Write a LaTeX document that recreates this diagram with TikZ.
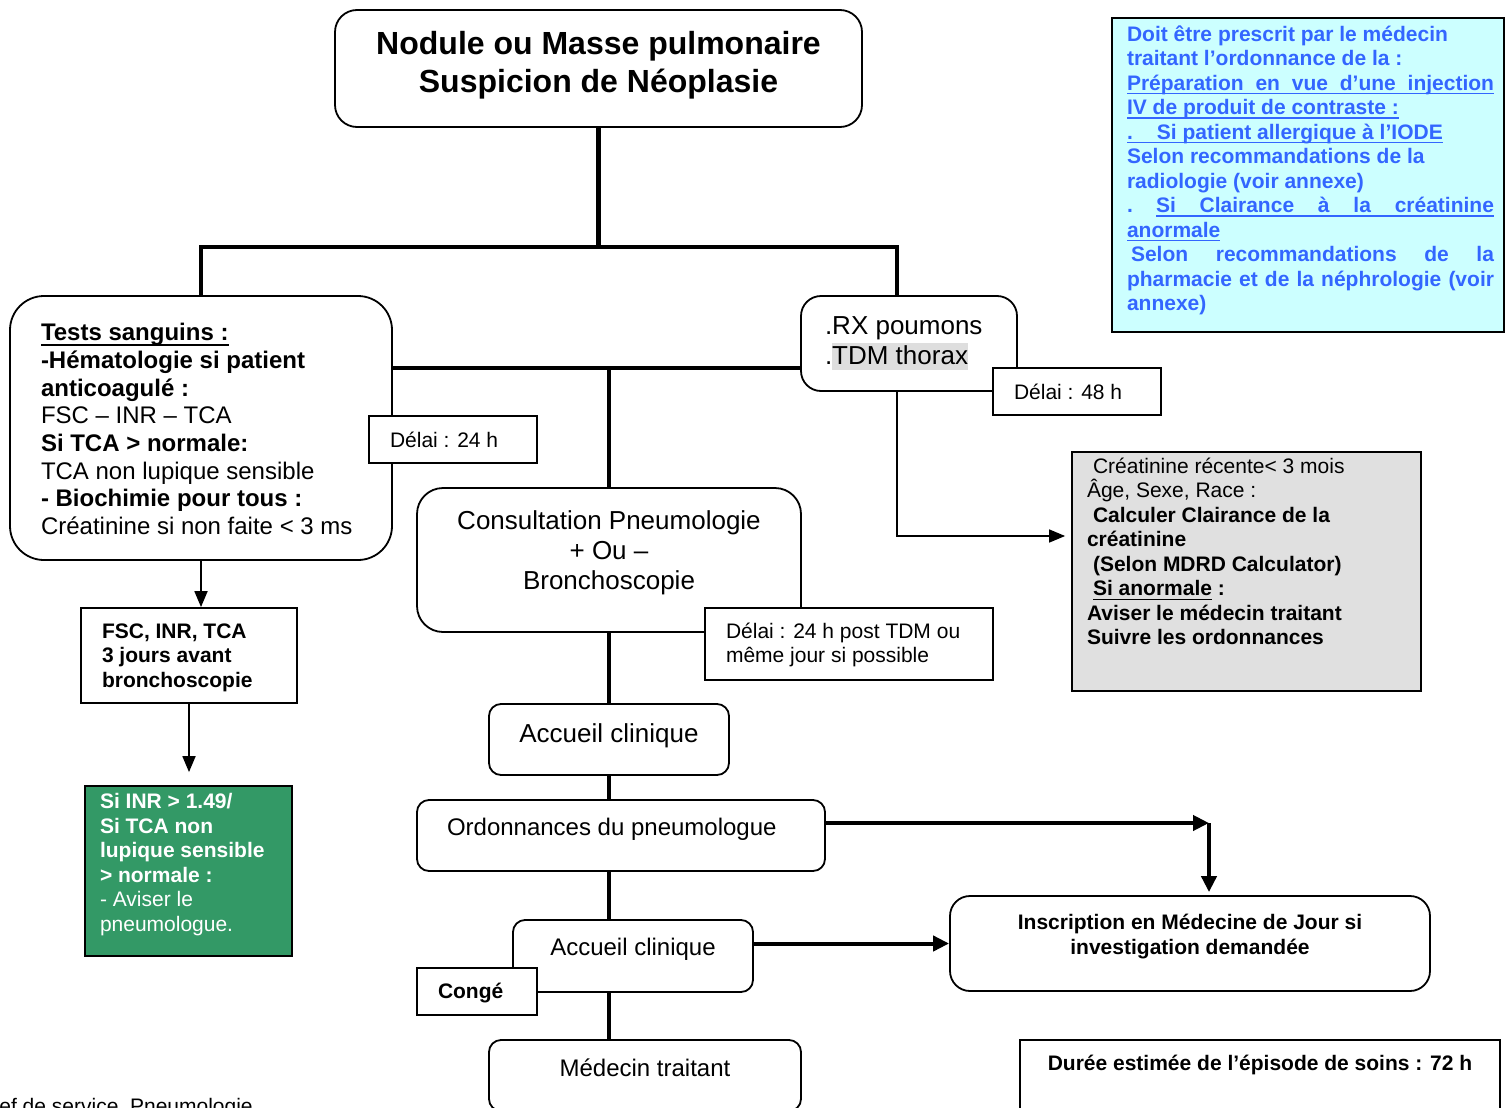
\documentclass[tikz,border=0pt]{standalone}
\usepackage{fontspec}
\setmainfont{Liberation Sans}
\usepackage{xcolor}
\usepackage{tikz}
\usetikzlibrary{arrows.meta}

\definecolor{bluetxt}{RGB}{51,102,255}
\definecolor{bluefill}{RGB}{204,255,255}
\definecolor{greyfill}{RGB}{224,224,224}
\definecolor{greenfill}{RGB}{51,153,102}
\definecolor{hlgrey}{RGB}{222,222,222}

\newcommand{\fbig}{\fontsize{16pt}{19pt}\selectfont}
\newcommand{\fmid}{\fontsize{13pt}{15pt}\selectfont}
\newcommand{\fnorm}{\fontsize{12pt}{13.85pt}\selectfont}
\newcommand{\fsmall}{\fontsize{10.5pt}{12.25pt}\selectfont}
\newcommand{\topbox}[4]{\parbox[c][#2][t]{#1}{\vspace*{#3}#4}}
\newcommand{\midbox}[3]{\parbox[c][#2][c]{#1}{#3}}
\newsavebox{\ulbox}
\newcommand{\uln}[1]{\leavevmode\sbox{\ulbox}{#1}\rlap{\rule[-0.2em]{\wd\ulbox}{0.07em}}\usebox{\ulbox}}
\newlength{\notew}
\setlength{\notew}{183.5pt}
\newcommand{\jline}[1]{\makebox[\notew][s]{#1}}

\begin{document}
\begin{tikzpicture}[x=0.5pt, y=-0.5pt,
  rbox/.style={draw, rounded corners=#1, line width=0.9pt, fill=white, inner sep=0pt},
  rbox/.default=10pt,
  sbox/.style={draw, line width=0.9pt, fill=white, inner ysep=0pt},
  trunk/.style={line width=2.2pt},
  arr/.style={line width=0.9pt, -{Triangle[length=8pt,width=6.5pt]}},
  thickarr/.style={line width=2pt, -{Triangle[length=8pt,width=7.5pt]}},
]
\useasboundingbox (0,0) rectangle (1505,1108);
\clip (0,0) rectangle (1505,1108);

\node[rbox=11pt] (title) at (598.5,68.5) {\topbox{263.5pt}{58.5pt}{10.75pt}{\fbig\bfseries\centering
  Nodule ou Masse pulmonaire\\Suspicion de Néoplasie}};

\node[rbox=17pt, inner xsep=15.5pt] (tests) at (201,428) {\topbox{160pt}{132pt}{13.7pt}{\fnorm\raggedright
  \textbf{\uln{Tests sanguins :}}\\
  \textbf{-Hématologie si patient}\\
  \textbf{anticoagulé :}\\
  FSC – INR – TCA\\
  \textbf{Si TCA > normale:}\\
  TCA non lupique sensible\\
  \textbf{- Biochimie pour tous :}\\
  Créatinine si non faite < 3 ms}};

\node[rbox=10pt, inner xsep=12pt] (rx) at (909,343.5) {\topbox{84pt}{47.5pt}{10.35pt}{\fmid\raggedright
  .RX poumons\\
  .{\setlength{\fboxsep}{0pt}\colorbox{hlgrey}{\rule[-2.5pt]{0pt}{13.5pt}TDM thorax}}}};

\node[rbox=13pt] (consult) at (609,560) {\topbox{192pt}{72pt}{11.3pt}{\fmid\centering
  Consultation Pneumologie\\+ Ou –\\Bronchoscopie}};

\node[rbox=6pt] (accueil) at (609,739.5) {\topbox{120pt}{35.5pt}{9.85pt}{\fmid\centering Accueil clinique}};

\node[rbox=6pt, inner xsep=15pt] (ordon) at (621,835.5) {\topbox{174pt}{35.5pt}{9.25pt}{\fnorm\raggedright
  Ordonnances du pneumologue}};

\node[rbox=6pt] (accueilb) at (633,956) {\topbox{120pt}{36pt}{9.25pt}{\fnorm\centering Accueil clinique}};

\node[rbox=6pt] (medecin) at (645,1075.5) {\topbox{156pt}{35.5pt}{9.25pt}{\fnorm\centering Médecin traitant}};

\node[rbox=10pt] (inscr) at (1190,943.5) {\topbox{240pt}{47.5pt}{9.25pt}{\fsmall\bfseries\centering
  Inscription en Médecine de Jour si\\investigation demandée}};

\node[sbox, inner xsep=0pt] (duree) at (1260,1080) {\topbox{240pt}{40pt}{7.75pt}{\fsmall\bfseries\centering
  Durée estimée de l’épisode de soins : 72 h}};

\node[sbox, fill=bluefill, text=bluetxt, inner xsep=0pt] (note) at (1308,175) {\topbox{196pt}{157pt}{3.75pt}{\fsmall\bfseries\raggedright\leftskip=7.5pt
  Doit être prescrit par le médecin\\
  traitant l’ordonnance de la :\\
  \uln{\jline{Préparation en vue d’une injection}}\\
  \uln{IV de produit de contraste :}\\
  \uln{.\hspace{12pt}Si patient allergique à l’IODE}\\
  Selon recommandations de la\\
  radiologie (voir annexe)\\
  \leavevmode\hbox to\notew{.\hfill\uln{\hbox to 0.921\notew{Si\hfill Clairance\hfill à\hfill la\hfill créatinine}}}\\
  \uln{anormale}\\
  \jline{\hspace{2pt}Selon recommandations de la}\\
  \jline{pharmacie et de la néphrologie (voir}\\
  annexe)}};

\node[sbox, fill=greyfill, inner xsep=7.5pt] (crea) at (1246.5,571.5) {\topbox{159.5pt}{119.5pt}{3pt}{\fsmall\raggedright
  \hspace*{3pt}Créatinine récente< 3 mois\\
  Âge, Sexe, Race :\\
  \textbf{\hspace*{3pt}Calculer Clairance de la}\\
  \textbf{créatinine}\\
  \textbf{\hspace*{3pt}(Selon MDRD Calculator)}\\
  \textbf{\hspace*{3pt}\uln{Si anormale} :}\\
  \textbf{Aviser le médecin traitant}\\
  \textbf{Suivre les ordonnances}}};

\node[sbox, inner xsep=10.5pt] (fsc) at (189,655.5) {\topbox{87pt}{47.5pt}{7.75pt}{\fsmall\bfseries\raggedright
  FSC, INR, TCA\\3 jours avant\\bronchoscopie}};

\node[sbox, fill=greenfill, text=white, inner xsep=7.5pt] (inr) at (188.5,871) {\topbox{88.5pt}{85pt}{3.75pt}{\fsmall\raggedright
  \textbf{Si INR > 1.49/}\\
  \textbf{Si TCA non}\\
  \textbf{lupique sensible}\\
  \textbf{> normale :}\\
  - Aviser le\\
  pneumologue.}};

\node[anchor=base west, inner sep=0pt, font=\fsmall] (footer) at (-1,1113) {ef de service, Pneumologie};

\coordinate (jtop) at (598,247);
\coordinate (jrx) at (897,247);
\coordinate (jmid) at (609,368);
\coordinate (kcrea) at (897,536);
\coordinate (kord) at (1209,823);

\draw[trunk] (title.south) -- (title.south |- jtop);
\draw[trunk] (tests.north) |- (jrx) -- (jrx |- rx.north);
\draw[trunk] (tests.east |- jmid) -- (rx.west |- jmid);
\draw[trunk] (jmid) -- (consult.north);
\draw[trunk] (consult.south) -- (accueil.north);
\draw[trunk] (accueil.south) -- (accueil.south |- ordon.north);
\draw[trunk] (ordon.south -| accueil) -- (accueil |- accueilb.north);
\draw[trunk] (accueilb.south -| accueil) -- (accueil |- medecin.north);

\draw[arr] (tests.south) -- (tests.south |- fsc.north);
\draw[arr, shorten >=6.5pt] (fsc.south) -- (fsc.south |- inr.north);
\draw[arr, line width=0.8pt, shorten >=3pt] (jrx |- rx.south) -- (kcrea) -- (kcrea -| crea.west);

\draw[thickarr] (ordon.east |- kord) -- (kord);
\draw[thickarr, shorten >=1.5pt] (kord) -- (kord |- inscr.north);
\draw[thickarr] (accueilb.east |- inscr.west) -- (inscr.west);

\node[sbox, inner xsep=10.5pt] (d24) at (453,439.5) {\midbox{63pt}{23.5pt}{\fsmall Délai : 24 h}};
\node[sbox, inner xsep=10.5pt] (d48) at (1077,391.5) {\midbox{63pt}{23.5pt}{\fsmall Délai : 48 h}};
\node[sbox, inner xsep=10.5pt] (dtdm) at (849,644) {\topbox{123pt}{36pt}{7.75pt}{\fontsize{10.5pt}{12pt}\selectfont\raggedright
  Délai : 24 h post TDM ou\\même jour si possible}};
\node[sbox, inner xsep=10.5pt] (conge) at (477,991.5) {\topbox{39pt}{23.5pt}{7.5pt}{\fsmall\bfseries Congé}};
\end{tikzpicture}
\end{document}
